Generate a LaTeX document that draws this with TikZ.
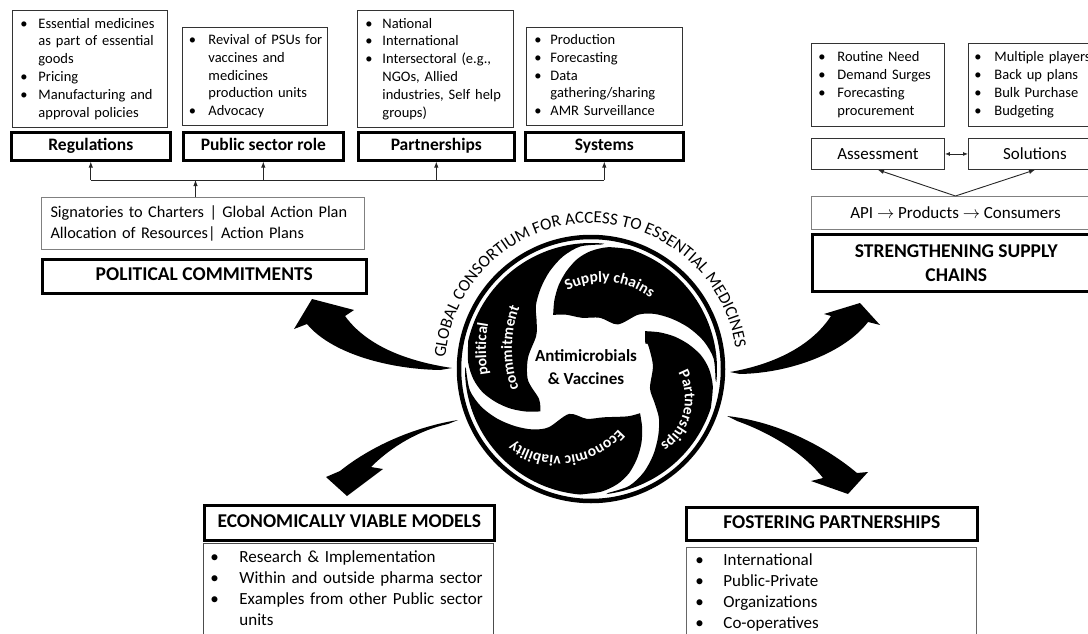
\documentclass[tikz,border=0pt]{standalone}
\usepackage{fontspec}
\setmainfont{Carlito}
\usetikzlibrary{arrows.meta,positioning,decorations.text}

\newcommand{\blist}[2]{\begin{tabular}{@{}p{#1}@{}l@{}}#2\end{tabular}}

\begin{document}
\begin{tikzpicture}[x=1pt,y=-1pt,
  itembox/.style={draw=black!80,line width=0.9pt,anchor=north west,align=left,inner ysep=0pt,font=\fontsize{14.5}{17.8}\selectfont},
  headbox/.style={draw,line width=2.6pt,anchor=north west,inner sep=0pt,font=\bfseries\fontsize{17.5}{20}\selectfont},
  capsbox/.style={headbox,font=\bfseries\fontsize{19.5}{24}\selectfont},
  oneline/.style={text height=12.5pt,text depth=3.5pt},
  greybox/.style={draw=black!50,line width=1pt,anchor=north west,inner ysep=0pt,font=\fontsize{16.3}{20.5}\selectfont},
  link/.style={draw=black!85,line width=0.9pt},
  arrowhead/.style={-{Latex[length=6pt,width=4.5pt]}},
  swoosh/.style={fill=black},
  blade/.style={fill=black},
  bladeword/.style={decorate,decoration={text along path,text align=center,text color=white,
    text={|\bfseries\fontsize{15.5}{17}\selectfont|#1}}}]

\useasboundingbox (0,0) rectangle (1088,634);

% political commitments, top row
\node[itembox,inner xsep=8pt,text width=139pt,minimum height=117pt] (regItems) at (12,10)
  {\blist{18pt}{\textbullet & Essential medicines\\ & as part of essential\\ & goods\\ \textbullet & Pricing\\ \textbullet & Manufacturing and\\ & approval policies}};
\node[itembox,inner xsep=6.5pt,text width=132pt,minimum height=98pt] (psrItems) at (182,27)
  {\blist{19.5pt}{\textbullet & Revival of PSUs for\\ & vaccines and\\ & medicines\\ & production  units\\ \textbullet & Advocacy}};
\node[itembox,inner xsep=8pt,text width=140pt,minimum height=117pt] (parItems) at (357,10)
  {\blist{17pt}{\textbullet & National\\ \textbullet & International\\ \textbullet & Intersectoral (e.g.,\\ & NGOs, Allied\\ & industries, Self help\\ & groups)}};
\node[itembox,inner xsep=8pt,text width=140pt,minimum height=98pt] (sysItems) at (526,27)
  {\blist{16pt}{\textbullet & Production\\ \textbullet & Forecasting\\ \textbullet & Data\\ & gathering/sharing\\ \textbullet & AMR Surveillance}};

\node[headbox,oneline,minimum width=159pt,minimum height=28pt] (regHead) at (10,131) {Regulations};
\node[headbox,oneline,minimum width=160pt,minimum height=28pt] (psrHead) at (182,131) {Public sector role};
\node[headbox,oneline,minimum width=156pt,minimum height=28pt] (parHead) at (357,131) {Partnerships};
\node[headbox,oneline,minimum width=158pt,minimum height=28pt] (sysHead) at (524,131) {Systems};

\node[greybox,align=left,inner xsep=9pt,text width=305pt,minimum height=52pt] (sigBox) at (41,197)
  {Signatories to Charters | Global Action Plan\\Allocation of Resources| Action Plans};
\node[capsbox,oneline,minimum width=324pt,minimum height=34pt] (pcHead) at (41,258) {POLITICAL COMMITMENTS};

\coordinate (bus) at (0,180);
\draw[link] (regHead.south |- bus) -- (sysHead.south |- bus);
\foreach \h in {regHead,psrHead,parHead,sysHead}
  \draw[link,arrowhead] (\h.south |- bus) -- (\h.south);
\draw[link,arrowhead] ([xshift=-7.5pt]sigBox.north) -- ([xshift=-7.5pt]sigBox.north |- bus);

% supply chains, right
\node[itembox,inner xsep=7pt,text width=119pt,minimum height=83pt] (needItems) at (811,43)
  {\blist{19pt}{\textbullet & Routine Need\\ \textbullet & Demand Surges\\ \textbullet & Forecasting\\ & procurement}};
\node[itembox,inner xsep=6pt,text width=130pt,minimum height=83pt] (optItems) at (968,43)
  {\blist{20pt}{\textbullet & Multiple players\\ \textbullet & Back up plans\\ \textbullet & Bulk Purchase\\ \textbullet & Budgeting}};
\node[itembox,align=center,minimum width=133pt,minimum height=31pt,font=\fontsize{17}{20}\selectfont] (assessBox) at (811,138) {Assessment};
\node[itembox,align=center,minimum width=133pt,minimum height=31pt,font=\fontsize{17}{20}\selectfont] (solBox) at (968,138) {Solutions};
\node[greybox,minimum width=288pt,minimum height=33pt,font=\fontsize{17}{20}\selectfont] (apiBox) at (811,196) {API $\rightarrow$ Products $\rightarrow$ Consumers};
\node[capsbox,align=center,minimum width=288pt,minimum height=57pt] (sscHead) at (811,233) {STRENGTHENING SUPPLY\\CHAINS};

\draw[link,arrowhead] (apiBox.north) -- (assessBox.south);
\draw[link,arrowhead] (apiBox.north) -- (solBox.south);
\draw[link,{Latex[length=5pt,width=4pt]}-{Latex[length=5pt,width=4pt]}] (assessBox.east) -- (solBox.west);

% bottom boxes
\node[capsbox,oneline,minimum width=290pt,minimum height=35pt] (evmHead) at (203,504) {ECONOMICALLY VIABLE MODELS};
\node[itembox,draw=black!70,inner xsep=7pt,text width=276pt,minimum height=92pt,font=\fontsize{17}{21}\selectfont] (evmItems) at (203,543)
  {\blist{29pt}{\textbullet & Research \& Implementation\\ \textbullet & Within and outside pharma sector\\ \textbullet & Examples from other Public sector\\ & units}};
\node[capsbox,oneline,minimum width=291pt,minimum height=33pt] (fpHead) at (685,506) {FOSTERING PARTNERSHIPS};
\node[itembox,draw=black!60,inner xsep=9pt,text width=272pt,minimum height=90pt,font=\fontsize{17}{21}\selectfont] (fpItems) at (686,547)
  {\blist{28pt}{\textbullet & International\\ \textbullet & Public-Private\\ \textbullet & Organizations\\ \textbullet & Co-operatives}};

% the wheel
\begin{scope}[shift={(591,369)}]
  \draw[line width=4.5pt] (0,0) circle[radius=132pt];
  \foreach \ang/\nxt/\rin in {125/35/52,35/-42/62,-42/-140/50,-140/-235/64}
    \fill[blade] plot[smooth] coordinates {(\ang:66pt) (\ang-7:78pt) (\ang-14:90pt) (\ang-21:101pt) (\ang-28:111pt) (\ang-35:118pt) (\ang-43:123pt) (\ang-53:126pt)}
      arc[start angle=\ang-53, end angle=\nxt-41, radius=126pt]
      -- plot[smooth] coordinates {(\nxt-40:125pt) (\nxt-30:123pt) (\nxt-21:116pt) (\nxt-12:106pt) (\nxt-3:95pt) (\nxt+6:84pt) (\nxt+14:72pt) (\nxt+24:\rin pt) (\nxt+45:\rin pt) (\nxt+65:\rin pt) (\ang-10:60pt) (\ang:66pt)} -- cycle;
  \path[bladeword={Supply chains}] ([shift={(125:79pt)}]12pt,8pt) arc[start angle=125, end angle=45, radius=79pt];
  \path[bladeword={Partnerships}] ([shift={(42:54pt)}]40pt,-30pt) arc[start angle=42, end angle=-70, radius=54pt];
  \path[bladeword={Economic viability}] ([shift={(-25:79pt)}]-32pt,-8pt) arc[start angle=-25, end angle=-142, radius=79pt];
  \path[bladeword={political}] ([shift={(202:145pt)}]40pt,20pt) arc[start angle=202, end angle=158, radius=145pt];
  \path[bladeword={commitment}] ([shift={(204:119pt)}]40pt,20pt) arc[start angle=204, end angle=155, radius=119pt];
  \path[decorate,decoration={text along path,text align=center,
      text={|\fontsize{17}{19}\selectfont|GLOBAL CONSORTIUM FOR ACCESS TO ESSENTIAL MEDICINES}}]
    (182:146pt) arc[start angle=182, end angle=2, radius=146pt];
\end{scope}
\node[font=\bfseries\fontsize{17}{23}\selectfont,align=center] (core) at (586,367) {Antimicrobials\\\& Vaccines};

% big curved arrows out of the wheel
\fill[swoosh] (452,368) .. controls (405,361) and (366,345) .. (345,316) -- (354,310) -- (312,299) -- (294,329) -- (307,324) .. controls (330,352) and (385,369) .. (440,370) -- cycle;
\fill[swoosh] (730,372) .. controls (776,364) and (812,345) .. (831,316) -- (824,314) -- (860,303) -- (880,325) -- (868,322) .. controls (845,352) and (792,373) .. (740,374) -- cycle;
\fill[swoosh] (458,420) .. controls (420,426) and (375,443) .. (340,471) -- (326,477) -- (347,496) -- (383,469) -- (371,467) .. controls (392,446) and (420,430) .. (448,424) -- cycle;
\fill[swoosh] (727,416) .. controls (772,421) and (820,442) .. (857,473) -- (868,472) -- (848,494) -- (811,481) -- (823,478) .. controls (803,452) and (768,432) .. (737,421) -- cycle;

\end{tikzpicture}
\end{document}
